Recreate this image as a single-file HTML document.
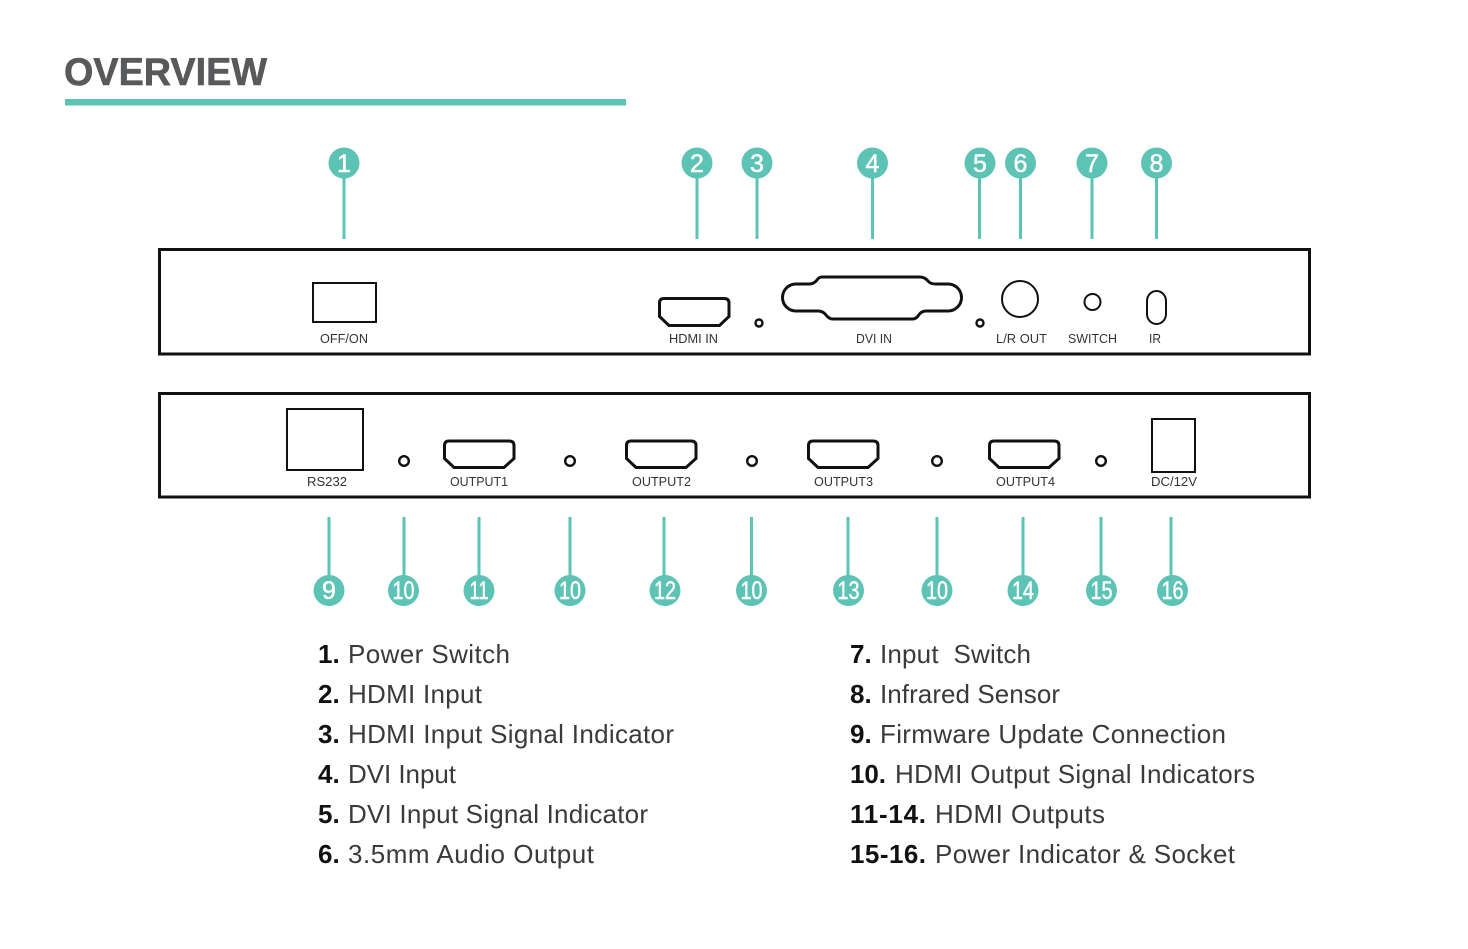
<!DOCTYPE html>
<html>
<head>
<meta charset="utf-8">
<style>
html,body{margin:0;padding:0;background:#fff;width:1468px;height:949px;overflow:hidden}
svg{display:block}
text{font-family:"Liberation Sans",sans-serif}
.l{font-size:13px;fill:#333}
.n{font-size:25px;fill:#fff;text-anchor:middle;stroke:#fff;stroke-width:.5}
.t{font-size:26px;fill:#3a3a3c}
.b{font-size:26px;font-weight:bold;fill:#111}
.k{stroke:#111;fill:none;stroke-width:3}
.c{stroke:#5cc3b5;stroke-width:3}
.d{fill:#5cc3b5}
</style>
</head>
<body>
<svg width="1468" height="949" viewBox="0 0 1468 949" xmlns="http://www.w3.org/2000/svg">
<text x="64" y="85" font-size="39" font-weight="bold" fill="#58595b" stroke="#58595b" stroke-width=".6" textLength="203" lengthAdjust="spacingAndGlyphs">OVERVIEW</text>
<rect x="65" y="99" width="561" height="6.5" fill="#5cc3b5"/>

<!-- connector lines -->
<g class="c">
<line x1="344" y1="163" x2="344" y2="239"/><line x1="697" y1="163" x2="697" y2="239"/><line x1="757" y1="163" x2="757" y2="239"/><line x1="872.500" y1="163" x2="872.500" y2="239"/><line x1="979.500" y1="163" x2="979.500" y2="239"/><line x1="1020.500" y1="163" x2="1020.500" y2="239"/><line x1="1092" y1="163" x2="1092" y2="239"/><line x1="1156.500" y1="163" x2="1156.500" y2="239"/>
<line x1="329" y1="517" x2="329" y2="590"/><line x1="404" y1="517" x2="404" y2="590"/><line x1="479" y1="517" x2="479" y2="590"/><line x1="570" y1="517" x2="570" y2="590"/><line x1="664" y1="517" x2="664" y2="590"/><line x1="751.500" y1="517" x2="751.500" y2="590"/><line x1="848" y1="517" x2="848" y2="590"/><line x1="937" y1="517" x2="937" y2="590"/><line x1="1023" y1="517" x2="1023" y2="590"/><line x1="1101" y1="517" x2="1101" y2="590"/><line x1="1171" y1="517" x2="1171" y2="590"/>
</g>

<!-- bubbles -->
<g class="d">
<circle cx="344" cy="163" r="15.500"/><circle cx="697" cy="163" r="15.500"/><circle cx="757" cy="163" r="15.500"/><circle cx="872.500" cy="163" r="15.500"/><circle cx="980" cy="163" r="15.500"/><circle cx="1020.500" cy="163" r="15.500"/><circle cx="1092" cy="163" r="15.500"/><circle cx="1156.500" cy="163" r="15.500"/>
<circle cx="329" cy="590.500" r="15.500"/><circle cx="403.500" cy="590.500" r="15.500"/><circle cx="479" cy="590.500" r="15.500"/><circle cx="570" cy="590.500" r="15.500"/><circle cx="665" cy="590.500" r="15.500"/><circle cx="751.500" cy="590.500" r="15.500"/><circle cx="848.500" cy="590.500" r="15.500"/><circle cx="937" cy="590.500" r="15.500"/><circle cx="1023" cy="590.500" r="15.500"/><circle cx="1101.500" cy="590.500" r="15.500"/><circle cx="1172.500" cy="590.500" r="15.500"/>
</g>
<g>
<text class="n" x="344" y="172">1</text><text class="n" x="697" y="172">2</text><text class="n" x="757" y="172">3</text><text class="n" x="872.500" y="172">4</text><text class="n" x="980" y="172">5</text><text class="n" x="1020.500" y="172">6</text><text class="n" x="1092" y="172">7</text><text class="n" x="1156.500" y="172">8</text>
<text class="n" x="329" y="599">9</text>
<text class="n" x="403.500" y="599" textLength="22" lengthAdjust="spacingAndGlyphs">10</text>
<text class="n" x="479" y="599" textLength="19" lengthAdjust="spacingAndGlyphs">11</text>
<text class="n" x="570" y="599" textLength="22" lengthAdjust="spacingAndGlyphs">10</text>
<text class="n" x="665" y="599" textLength="22" lengthAdjust="spacingAndGlyphs">12</text>
<text class="n" x="751.500" y="599" textLength="22" lengthAdjust="spacingAndGlyphs">10</text>
<text class="n" x="848.500" y="599" textLength="22" lengthAdjust="spacingAndGlyphs">13</text>
<text class="n" x="937" y="599" textLength="22" lengthAdjust="spacingAndGlyphs">10</text>
<text class="n" x="1023" y="599" textLength="22" lengthAdjust="spacingAndGlyphs">14</text>
<text class="n" x="1101.500" y="599" textLength="22" lengthAdjust="spacingAndGlyphs">15</text>
<text class="n" x="1172.500" y="599" textLength="22" lengthAdjust="spacingAndGlyphs">16</text>
</g>

<!-- panels -->
<rect x="159.500" y="249.500" width="1150" height="104.500" fill="none" stroke="#111" stroke-width="3"/>
<rect x="159.500" y="393.500" width="1150" height="103.500" fill="none" stroke="#111" stroke-width="3"/>

<!-- top panel -->
<rect class="k" x="313" y="283" width="63" height="39" style="stroke-width:2"/>
<path class="k" d="M664,298.500 H724 Q729,298.500 729,303 V316.500 L719.500,325.500 H669 L659.500,316.500 V303 Q659.500,298.500 664,298.500 Z"/>
<circle class="k" cx="759" cy="323" r="3.500" style="stroke-width:2.400"/>
<path class="k" d="M822,277 H920 Q925,277 929,282 Q931,284 936,284 H948 A13.500,13.500 0 0 1 948,311 H926 Q921,311 918,316 Q916,319 912,319 H833 Q829,319 826,315 Q823,311 818,311 H796 A13.500,13.500 0 0 1 796,284 H809 Q814,284 817,280 Q819,277 822,277 Z"/>
<circle class="k" cx="980" cy="323" r="3.500" style="stroke-width:2.400"/>
<circle class="k" cx="1020" cy="299" r="18" style="stroke-width:2"/>
<circle class="k" cx="1092.500" cy="302" r="8" style="stroke-width:2"/>
<rect class="k" x="1147" y="291" width="19" height="33" rx="9.500" ry="10" style="stroke-width:2"/>

<text class="l" x="320" y="343" textLength="48" lengthAdjust="spacingAndGlyphs">OFF/ON</text>
<text class="l" x="669" y="343" textLength="49" lengthAdjust="spacingAndGlyphs">HDMI IN</text>
<text class="l" x="856" y="343" textLength="36" lengthAdjust="spacingAndGlyphs">DVI IN</text>
<text class="l" x="996" y="343" textLength="51" lengthAdjust="spacingAndGlyphs">L/R OUT</text>
<text class="l" x="1068" y="343" textLength="49" lengthAdjust="spacingAndGlyphs">SWITCH</text>
<text class="l" x="1149" y="343" textLength="12" lengthAdjust="spacingAndGlyphs">IR</text>

<!-- bottom panel -->
<rect class="k" x="287" y="409" width="76" height="61" style="stroke-width:2"/>
<circle class="k" cx="404" cy="461" r="4.800" style="stroke-width:2.400"/>
<circle class="k" cx="570" cy="461" r="4.800" style="stroke-width:2.400"/>
<circle class="k" cx="752" cy="461" r="4.800" style="stroke-width:2.400"/>
<circle class="k" cx="937" cy="461" r="4.800" style="stroke-width:2.400"/>
<circle class="k" cx="1101" cy="461" r="4.800" style="stroke-width:2.400"/>
<path class="k" d="M449,441 H509 Q514,441 514,445.500 V458.500 L504,467.500 H454 L444.500,458.500 V445.500 Q444.500,441 449,441 Z"/>
<path class="k" transform="translate(182,0)" d="M449,441 H509 Q514,441 514,445.500 V458.500 L504,467.500 H454 L444.500,458.500 V445.500 Q444.500,441 449,441 Z"/>
<path class="k" transform="translate(364,0)" d="M449,441 H509 Q514,441 514,445.500 V458.500 L504,467.500 H454 L444.500,458.500 V445.500 Q444.500,441 449,441 Z"/>
<path class="k" transform="translate(545,0)" d="M449,441 H509 Q514,441 514,445.500 V458.500 L504,467.500 H454 L444.500,458.500 V445.500 Q444.500,441 449,441 Z"/>
<rect class="k" x="1152" y="419" width="43" height="53" style="stroke-width:2"/>

<text class="l" x="307" y="486" textLength="40" lengthAdjust="spacingAndGlyphs">RS232</text>
<text class="l" x="450" y="486" textLength="58" lengthAdjust="spacingAndGlyphs">OUTPUT1</text>
<text class="l" x="632" y="486" textLength="59" lengthAdjust="spacingAndGlyphs">OUTPUT2</text>
<text class="l" x="814" y="486" textLength="59" lengthAdjust="spacingAndGlyphs">OUTPUT3</text>
<text class="l" x="996" y="486" textLength="59" lengthAdjust="spacingAndGlyphs">OUTPUT4</text>
<text class="l" x="1151" y="486" textLength="46" lengthAdjust="spacingAndGlyphs">DC/12V</text>

<!-- legend left -->
<text class="b" x="318" y="663">1.</text><text class="t" x="348" y="663" textLength="162">Power Switch</text>
<text class="b" x="318" y="703">2.</text><text class="t" x="348" y="703" textLength="134">HDMI Input</text>
<text class="b" x="318" y="743">3.</text><text class="t" x="348" y="743" textLength="326">HDMI Input Signal Indicator</text>
<text class="b" x="318" y="783">4.</text><text class="t" x="348" y="783" textLength="108">DVI Input</text>
<text class="b" x="318" y="823">5.</text><text class="t" x="348" y="823" textLength="300">DVI Input Signal Indicator</text>
<text class="b" x="318" y="863">6.</text><text class="t" x="348" y="863" textLength="246">3.5mm Audio Output</text>

<!-- legend right -->
<text class="b" x="850" y="663">7.</text><text class="t" x="880" y="663" textLength="151" xml:space="preserve">Input  Switch</text>
<text class="b" x="850" y="703">8.</text><text class="t" x="880" y="703" textLength="180">Infrared Sensor</text>
<text class="b" x="850" y="743">9.</text><text class="t" x="880" y="743" textLength="346">Firmware Update Connection</text>
<text class="b" x="850" y="783" textLength="36">10.</text><text class="t" x="895" y="783" textLength="360">HDMI Output Signal Indicators</text>
<text class="b" x="850" y="823" textLength="76">11-14.</text><text class="t" x="935" y="823" textLength="170">HDMI Outputs</text>
<text class="b" x="850" y="863" textLength="76">15-16.</text><text class="t" x="935" y="863" textLength="300">Power Indicator &amp; Socket</text>
</svg>
</body>
</html>
